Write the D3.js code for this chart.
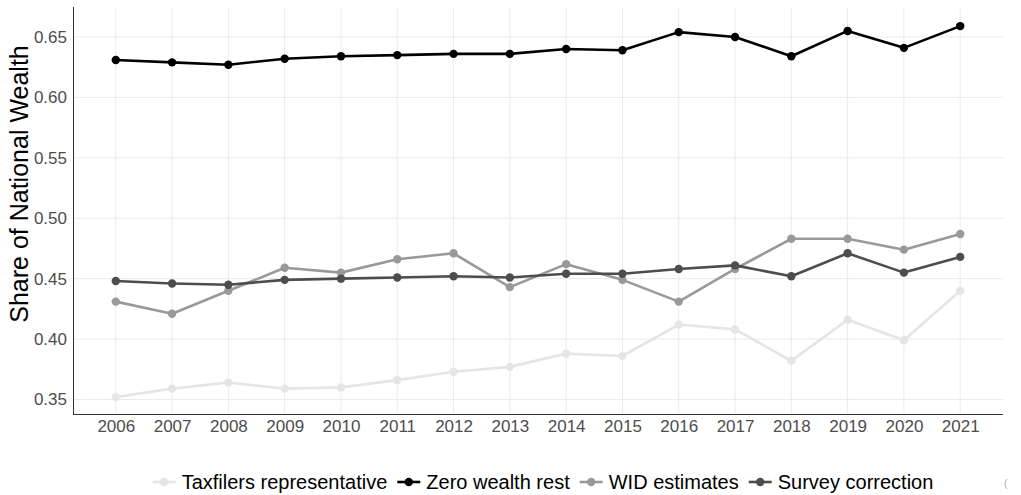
<!DOCTYPE html>
<html><head><meta charset="utf-8">
<script src="https://cdn.jsdelivr.net/npm/d3@7"></script>
<style>body{margin:0;background:#fff;} svg{display:block;font-family:"Liberation Sans",Arial,sans-serif;}</style>
</head><body><svg id="c" width="1021" height="495"></svg>
<script>
const years = [2006,2007,2008,2009,2010,2011,2012,2013,2014,2015,2016,2017,2018,2019,2020,2021];
const seriesNames = ["Taxfilers representative","Zero wealth rest","WID estimates","Survey correction"];
const seriesColors = ["#e5e5e5","#000000","#999999","#4d4d4d"];
const taxfilers = [0.352,0.359,0.364,0.359,0.360,0.366,0.373,0.377,0.388,0.386,0.412,0.408,0.382,0.416,0.399,0.440];
const zeroWealth = [0.631,0.629,0.627,0.632,0.634,0.635,0.636,0.636,0.640,0.639,0.654,0.650,0.634,0.655,0.641,0.659];
const wid = [0.431,0.421,0.440,0.459,0.455,0.466,0.471,0.443,0.462,0.449,0.431,0.458,0.483,0.483,0.474,0.487];
const survey = [0.448,0.446,0.445,0.449,0.450,0.451,0.452,0.451,0.454,0.454,0.458,0.461,0.452,0.471,0.455,0.468];
const yTicks = [0.35,0.40,0.45,0.50,0.55,0.60,0.65];
const yTitle = "Share of National Wealth";

const allSeries = [taxfilers, zeroWealth, wid, survey];
const svg = d3.select("#c");
const L = 73, R = 1003, T = 7, B = 414;
const x = d3.scaleLinear().domain([2005.24, 2021.76]).range([L, R]);
const y = d3.scaleLinear().domain([0.338, 0.6748]).range([B, T]);

// grid
const g = svg.append("g");
g.selectAll(".gy").data(yTicks).join("line")
  .attr("x1", L).attr("x2", R).attr("y1", d=>y(d)).attr("y2", d=>y(d))
  .attr("stroke", "#ebebeb").attr("stroke-width", 1);
g.selectAll(".gx").data(years).join("line")
  .attr("x1", d=>x(d)).attr("x2", d=>x(d)).attr("y1", T).attr("y2", B)
  .attr("stroke", "#ebebeb").attr("stroke-width", 1);

// axes
const ya = svg.append("g").attr("transform", `translate(${L},0)`)
  .call(d3.axisLeft(y).tickValues(yTicks).tickFormat(d3.format(".2f")).tickSize(0).tickPadding(6));
ya.select(".domain").remove();
ya.selectAll("text").attr("fill", "#4d4d4d").style("font-size", "17px");
const xa = svg.append("g").attr("transform", `translate(0,${B})`)
  .call(d3.axisBottom(x).tickValues(years).tickFormat(d3.format("d")).tickSize(0).tickPadding(6));
xa.select(".domain").remove();
xa.selectAll("text").attr("fill", "#4d4d4d").style("font-size", "17px");

svg.append("line").attr("x1", L+0.5).attr("x2", L+0.5).attr("y1", T).attr("y2", B).attr("stroke", "#333").attr("stroke-width", 1);
svg.append("line").attr("x1", L).attr("x2", R).attr("y1", B+0.5).attr("y2", B+0.5).attr("stroke", "#333").attr("stroke-width", 1);

svg.append("text").attr("transform", `translate(19,184) rotate(-90)`)
  .attr("text-anchor", "middle").attr("dominant-baseline", "central")
  .style("font-size", "25px").attr("fill", "#000").text(yTitle);

// lines
const line = d3.line().x((d,i)=>x(years[i])).y(d=>y(d));
allSeries.forEach((s, k) => {
  const sg = svg.append("g");
  sg.append("path").datum(s).attr("d", line).attr("fill", "none")
    .attr("stroke", seriesColors[k]).attr("stroke-width", 2.6).attr("stroke-linejoin", "round");
  sg.selectAll("circle").data(s).join("circle")
    .attr("cx", (d,i)=>x(years[i])).attr("cy", d=>y(d)).attr("r", 4.2).attr("fill", seriesColors[k]);
});

// legend
const ly = 482;
const leg = svg.append("g");
const items = [];
seriesNames.forEach((nm, k) => {
  const it = leg.append("g");
  it.append("line").attr("x1", 0).attr("x2", 23).attr("y1", 0).attr("y2", 0).attr("stroke", seriesColors[k]).attr("stroke-width", 2.6);
  it.append("circle").attr("cx", 11.5).attr("cy", 0).attr("r", 4.2).attr("fill", seriesColors[k]);
  const t = it.append("text").attr("x", 29).attr("y", 0).attr("dominant-baseline", "central")
    .style("font-size", "20px").attr("fill", "#000").text(nm);
  const w = 29 + t.node().getComputedTextLength();
  items.push({it, w});
});
const gap = 10;
const total = d3.sum(items, d=>d.w) + gap*(items.length-1);
let pos = 543 - total/2;
items.forEach(d => { d.it.attr("transform", `translate(${pos},${ly})`); pos += d.w + gap; });
svg.append("text").attr("x", 1004).attr("y", 487).style("font-size", "10px").attr("fill", "#aaa").text("(");
</script></body></html>
